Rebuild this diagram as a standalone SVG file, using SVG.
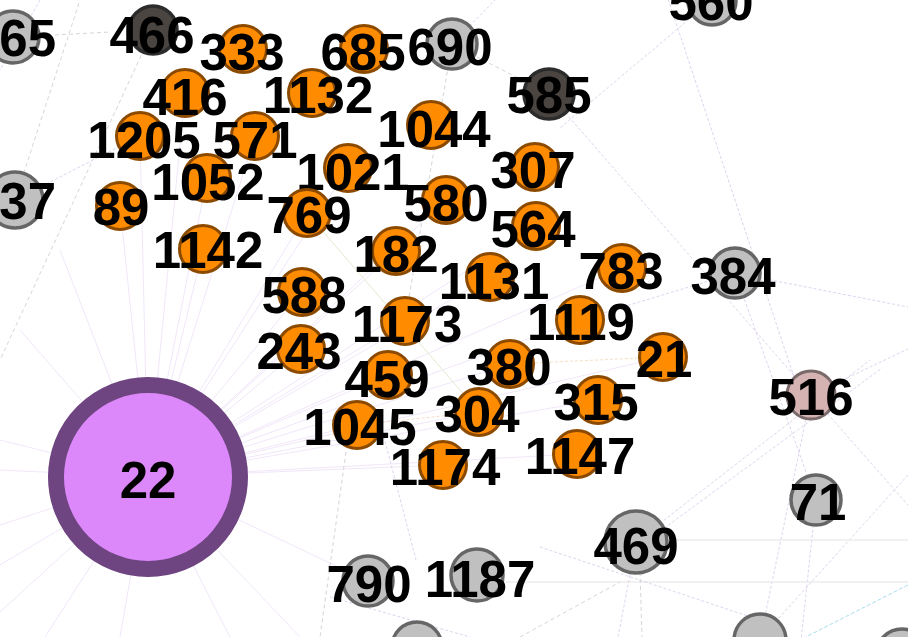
<svg xmlns="http://www.w3.org/2000/svg" width="908" height="637" viewBox="0 0 908 637">
<style>
.bg{fill:#ffffff}
.o{fill:#ff8c00;stroke:#8b4a00;stroke-width:3}
.g{fill:#c0c0c0;stroke:#666666;stroke-width:3.5}
.d{fill:#4a4540;stroke:#2c2c2c;stroke-width:3.5}
.p{fill:#d6b3b3;stroke:#7a6a6a;stroke-width:3}
.hub{fill:#dd88fa;stroke:#6e4580;stroke-width:16}
text{font-family:"Liberation Sans",Arial,sans-serif;font-weight:bold;font-size:51px;text-anchor:middle;fill:#000}
.e1{stroke:#f1e6fa;stroke-width:1;fill:none}
.e2{stroke:#d6d6d6;stroke-width:1;stroke-dasharray:4 3;fill:none}
.e3{stroke:#dfd4ee;stroke-width:1;stroke-dasharray:3 2;fill:none}
.e4{stroke:#a9def0;stroke-width:1;stroke-dasharray:4 2;fill:none}
.e5{stroke:#ededed;stroke-width:1.5;fill:none}
.e6{stroke:#e3e9cf;stroke-width:1;fill:none}
.e7{stroke:#f7dfc6;stroke-width:1;stroke-dasharray:3 2;fill:none}
</style>
<rect class="bg" x="0" y="0" width="908" height="637"/>
<g id="connectors">
  <g id="fan-22">
    <line class="e1" x1="148" y1="477" x2="120" y2="206"/>
    <line class="e1" x1="148" y1="477" x2="203" y2="249"/>
    <line class="e1" x1="148" y1="477" x2="207" y2="178"/>
    <line class="e1" x1="148" y1="477" x2="140" y2="136"/>
    <line class="e1" x1="148" y1="477" x2="185" y2="93"/>
    <line class="e1" x1="148" y1="477" x2="255" y2="136"/>
    <line class="e1" x1="148" y1="477" x2="302" y2="292"/>
    <line class="e1" x1="148" y1="477" x2="301" y2="349"/>
    <line class="e1" x1="148" y1="477" x2="307" y2="213"/>
    <line class="e1" x1="148" y1="477" x2="388" y2="375"/>
    <line class="e1" x1="148" y1="477" x2="357" y2="425"/>
    <line class="e1" x1="148" y1="477" x2="405" y2="321"/>
    <line class="e1" x1="148" y1="477" x2="396" y2="251"/>
    <line class="e1" x1="148" y1="477" x2="510" y2="364"/>
    <line class="e1" x1="148" y1="477" x2="479" y2="412"/>
    <line class="e1" x1="148" y1="477" x2="443" y2="465"/>
    <line class="e1" x1="148" y1="477" x2="577" y2="454"/>
    <line class="e1" x1="148" y1="477" x2="598" y2="400"/>
    <line class="e1" x1="148" y1="477" x2="580" y2="320"/>
    <line class="e1" x1="148" y1="477" x2="490" y2="277"/>
    <line class="e1" x1="148" y1="477" x2="663" y2="357"/>
    <line class="e1" x1="148" y1="477" x2="446" y2="200"/>
    <line class="e1" x1="148" y1="477" x2="536" y2="226"/>
    <line class="e1" x1="148" y1="477" x2="622" y2="268"/>
    <line class="e1" x1="148" y1="477" x2="348" y2="168"/>
    <line class="e1" x1="148" y1="477" x2="0" y2="440"/>
    <line class="e1" x1="148" y1="477" x2="0" y2="470"/>
    <line class="e1" x1="148" y1="477" x2="0" y2="525"/>
    <line class="e1" x1="148" y1="477" x2="0" y2="565"/>
    <line class="e1" x1="148" y1="477" x2="0" y2="612"/>
    <line class="e1" x1="148" y1="477" x2="45" y2="637"/>
    <line class="e1" x1="148" y1="477" x2="120" y2="637"/>
    <line class="e1" x1="148" y1="477" x2="230" y2="637"/>
    <line class="e1" x1="148" y1="477" x2="300" y2="637"/>
    <line class="e1" x1="148" y1="477" x2="60" y2="250"/>
    <line class="e1" x1="148" y1="477" x2="20" y2="330"/>
    <line class="e1" x1="148" y1="477" x2="368" y2="581"/>
  </g>
  <line class="e2" x1="55" y1="35" x2="110" y2="32"/>
  <line class="e2" x1="153" y1="30" x2="0" y2="360"/>
  <line class="e3" x1="15" y1="200" x2="140" y2="136"/>
  <line class="e2" x1="15" y1="200" x2="80" y2="0"/>
  <line class="e3" x1="40" y1="0" x2="0" y2="70"/>
  <line class="e2" x1="452" y1="44" x2="549" y2="94"/>
  <line class="e3" x1="452" y1="44" x2="495" y2="0"/>
  <line class="e2" x1="452" y1="44" x2="405" y2="321"/>
  <line class="e3" x1="549" y1="94" x2="811" y2="395"/>
  <line class="e3" x1="665" y1="-10" x2="805" y2="410"/>
  <line class="e3" x1="712" y1="0" x2="560" y2="128"/>
  <line class="e3" x1="735" y1="273" x2="908" y2="307"/>
  <line class="e3" x1="580" y1="320" x2="735" y2="273"/>
  <line class="e3" x1="811" y1="395" x2="908" y2="349"/>
  <line class="e3" x1="811" y1="395" x2="930" y2="530"/>
  <line class="e3" x1="811" y1="395" x2="760" y2="640"/>
  <line class="e3" x1="816" y1="500" x2="735" y2="273"/>
  <line class="e3" x1="816" y1="500" x2="800" y2="650"/>
  <line class="e3" x1="908" y1="475" x2="778" y2="619"/>
  <line class="e4" x1="908" y1="585" x2="790" y2="645"/>
  <line class="e3" x1="636" y1="542" x2="870" y2="360"/>
  <line class="e3" x1="640" y1="546" x2="882" y2="368"/>
  <line class="e5" x1="636" y1="540" x2="908" y2="540"/>
  <line class="e5" x1="500" y1="582" x2="908" y2="582"/>
  <line class="e3" x1="540" y1="547" x2="760" y2="620"/>
  <line class="e3" x1="630" y1="575" x2="618" y2="637"/>
  <line class="e2" x1="640" y1="572" x2="642" y2="637"/>
  <line class="e3" x1="330" y1="597" x2="470" y2="637"/>
  <line class="e2" x1="520" y1="637" x2="620" y2="582"/>
  <line class="e2" x1="346" y1="452" x2="320" y2="637"/>
  <line class="e3" x1="380" y1="422" x2="416" y2="560"/>
  <line class="e6" x1="307" y1="213" x2="479" y2="412"/>
  <line class="e7" x1="357" y1="425" x2="479" y2="412"/>
  <line class="e7" x1="510" y1="364" x2="663" y2="357"/>
</g>
<g id="n22"><circle class="hub" cx="148" cy="477" r="92"/><text x="148" y="498">22</text></g>
<g id="n65"><circle class="g" cx="13" cy="37" r="26"/><text x="56" y="56" style="text-anchor:end">65</text></g>
<g id="n466"><circle class="d" cx="153" cy="30" r="24"/><text x="152" y="53">466</text></g>
<g id="n333"><circle class="o" cx="243" cy="49" r="23.5"/><text x="242" y="70">333</text></g>
<g id="n685"><circle class="o" cx="364" cy="49" r="23.5"/><text x="363" y="70">685</text></g>
<g id="n690"><circle class="g" cx="452" cy="44" r="25"/><text x="450" y="65">690</text></g>
<g id="n560"><circle class="g" cx="712" cy="1" r="24"/><text x="711" y="20">560</text></g>
<g id="n416"><circle class="o" cx="185" cy="93" r="23.5"/><text x="185" y="115">416</text></g>
<g id="n1132"><circle class="o" cx="312" cy="93" r="23.5"/><text x="318" y="113">1132</text></g>
<g id="n585"><circle class="d" cx="549" cy="94" r="25"/><text x="549" y="113">585</text></g>
<g id="n1205"><circle class="o" cx="140" cy="136" r="23.5"/><text x="144" y="158">1205</text></g>
<g id="n571"><circle class="o" cx="255" cy="136" r="23.5"/><text x="255" y="158">571</text></g>
<g id="n1044"><circle class="o" cx="431" cy="125" r="23.5"/><text x="434" y="147">1044</text></g>
<g id="n1021"><circle class="o" cx="348" cy="168" r="23.5"/><text x="353" y="190">1021</text></g>
<g id="n307"><circle class="o" cx="535" cy="167" r="23.5"/><text x="533" y="188">307</text></g>
<g id="n1052"><circle class="o" cx="207" cy="178" r="23.5"/><text x="208" y="200">1052</text></g>
<g id="n37"><circle class="g" cx="15" cy="200" r="28"/><text x="56" y="219" style="text-anchor:end">37</text></g>
<g id="n89"><circle class="o" cx="120" cy="206" r="23.5"/><text x="121" y="225">89</text></g>
<g id="n769"><circle class="o" cx="307" cy="213" r="23.5"/><text x="309" y="233">769</text></g>
<g id="n580"><circle class="o" cx="446" cy="200" r="23.5"/><text x="446" y="221">580</text></g>
<g id="n564"><circle class="o" cx="536" cy="226" r="23.5"/><text x="533" y="247">564</text></g>
<g id="n1142"><circle class="o" cx="203" cy="249" r="23.5"/><text x="208" y="268">1142</text></g>
<g id="n182"><circle class="o" cx="396" cy="251" r="23.5"/><text x="396" y="272">182</text></g>
<g id="n1131"><circle class="o" cx="490" cy="277" r="23.5"/><text x="494" y="299">1131</text></g>
<g id="n783"><circle class="o" cx="622" cy="268" r="23.5"/><text x="621" y="289">783</text></g>
<g id="n384"><circle class="g" cx="735" cy="273" r="25"/><text x="733" y="294">384</text></g>
<g id="n588"><circle class="o" cx="302" cy="292" r="23.5"/><text x="304" y="313">588</text></g>
<g id="n1173"><circle class="o" cx="405" cy="321" r="23.5"/><text x="407" y="342">1173</text></g>
<g id="n1119"><circle class="o" cx="580" cy="320" r="23.5"/><text x="581" y="340">1119</text></g>
<g id="n243"><circle class="o" cx="301" cy="349" r="23.5"/><text x="299" y="369">243</text></g>
<g id="n21"><circle class="o" cx="663" cy="357" r="23.5"/><text x="664" y="377">21</text></g>
<g id="n459"><circle class="o" cx="388" cy="375" r="23.5"/><text x="387" y="397">459</text></g>
<g id="n380"><circle class="o" cx="510" cy="364" r="23.5"/><text x="509" y="385">380</text></g>
<g id="n516"><circle class="p" cx="811" cy="395" r="24"/><text x="811" y="415">516</text></g>
<g id="n315"><circle class="o" cx="598" cy="400" r="23.5"/><text x="596" y="420">315</text></g>
<g id="n1045"><circle class="o" cx="357" cy="425" r="23.5"/><text x="360" y="445">1045</text></g>
<g id="n304"><circle class="o" cx="479" cy="412" r="23.5"/><text x="477" y="432">304</text></g>
<g id="n1174"><circle class="o" cx="443" cy="465" r="23.5"/><text x="445" y="485">1174</text></g>
<g id="n1147"><circle class="o" cx="577" cy="454" r="23.5"/><text x="580" y="474">1147</text></g>
<g id="n71"><circle class="g" cx="816" cy="500" r="25"/><text x="818" y="520">71</text></g>
<g id="n469"><circle class="g" cx="636" cy="542" r="31"/><text x="636" y="564">469</text></g>
<g id="n790"><circle class="g" cx="368" cy="581" r="25"/><text x="369" y="602">790</text></g>
<g id="n1187"><circle class="g" cx="477" cy="575" r="26"/><text x="480" y="597">1187</text></g>
<g id="nb1"><circle class="g" cx="417" cy="647" r="25"/></g>
<g id="nb2"><circle class="g" cx="760" cy="640" r="26"/></g>
<g id="nb3"><circle class="g" cx="902" cy="655" r="26"/></g>
</svg>
